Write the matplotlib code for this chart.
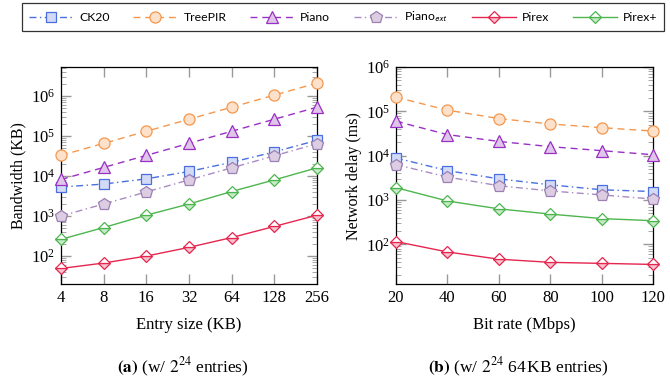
import matplotlib.pyplot as plt
from matplotlib.ticker import LogLocator, NullFormatter, FixedLocator, FixedFormatter
import numpy as np

plt.rcParams["font.family"] = "Liberation Serif"
plt.rcParams["mathtext.fontset"] = "stix"

# (a) bandwidth vs entry size (KB)
entry_size = [4, 8, 16, 32, 64, 128, 256]
bw_ck20 = [5300, 6300, 8500, 13000, 22000, 40000, 78000]
bw_treepir = [32768, 65536, 131072, 262144, 524288, 1048576, 2097152]
bw_piano = [8192, 16384, 32768, 65536, 131072, 262144, 524288]
bw_piano_ext = [1000, 2000, 4000, 8000, 16000, 32000, 64000]
bw_pirex = [49, 67, 100, 165, 290, 550, 1050]
bw_pirex_plus = [262, 516, 1050, 2000, 4100, 8000, 16000]

# (b) network delay vs bit rate (Mbps)
bit_rate = [20, 40, 60, 80, 100, 120]
nd_ck20 = [8900, 4600, 3000, 2200, 1700, 1550]
nd_treepir = [210000, 107000, 69000, 52000, 43000, 36000]
nd_piano = [60000, 30000, 21000, 16000, 13000, 10500]
nd_piano_ext = [6300, 3300, 2100, 1600, 1300, 1050]
nd_pirex = [115, 67, 46, 39, 37, 35]
nd_pirex_plus = [1900, 950, 630, 480, 380, 340]

labels = ["CK20", "TreePIR", "Piano", r"Piano$_{\mathsf{ext}}$", "Pirex", "Pirex+"]

styles = [
    dict(color="#4a6fe0", ls=(0, (5, 2.5, 1, 2.5)), marker="s", mfc="#d2daf6", mec="#4a6fe0"),
    dict(color="#f5984e", ls=(0, (5, 3.5)), marker="o", mfc="#fde1cb", mec="#f5984e"),
    dict(color="#9a2fc4", ls=(0, (5, 3.5)), marker="^", mfc="#dfc5ea", mec="#9a2fc4"),
    dict(color="#a98bc4", ls=(0, (5, 2.5, 1, 2.5)), marker="p", mfc="#dccde3", mec="#9c80b3"),
    dict(color="#e5264f", ls="-", marker="D", mfc="#f7c3cf", mec="#e5264f",
         fillstyle="bottom", mfcalt="white"),
    dict(color="#4db64f", ls="-", marker="D", mfc="#c7eac7", mec="#4db64f",
         fillstyle="bottom", mfcalt="white"),
]
msizes = [7.7, 8, 8.5, 8.8, 6.6, 6.6]

fig = plt.figure(figsize=(6.7, 3.86), dpi=100)
ax1 = fig.add_axes([0.091, 0.264, 0.382, 0.562])
ax2 = fig.add_axes([0.591, 0.264, 0.384, 0.562])

series_a = [bw_ck20, bw_treepir, bw_piano, bw_piano_ext, bw_pirex, bw_pirex_plus]
series_b = [nd_ck20, nd_treepir, nd_piano, nd_piano_ext, nd_pirex, nd_pirex_plus]


def draw(ax, xs, ys, st, ms, lab=None):
    st = dict(st)
    alt = st.pop("mfcalt", None)
    h, = ax.plot(xs, ys, color=st["color"], ls=st["ls"], lw=1.0,
                 marker=st["marker"], markersize=ms, markerfacecolor=st["mfc"],
                 markeredgecolor=st["mec"], markeredgewidth=0.9,
                 fillstyle=st.get("fillstyle", "full"),
                 markerfacecoloralt=alt if alt else "none", label=lab,
                 clip_on=False, zorder=3)
    return h


handles = [draw(ax1, entry_size, ys, st, ms, lab)
           for ys, st, ms, lab in zip(series_a, styles, msizes, labels)]
for ys, st, ms in zip(series_b, styles, msizes):
    draw(ax2, bit_rate, ys, st, ms)

for ax in (ax1, ax2):
    ax.set_yscale("log")
    ax.yaxis.set_major_locator(LogLocator(base=10, numticks=10))
    ax.yaxis.set_minor_locator(LogLocator(base=10, subs=np.arange(2, 10), numticks=10))
    ax.yaxis.set_minor_formatter(NullFormatter())
    ax.tick_params(which="both", direction="in", top=True, right=True, color="#999999",
                   labelsize=12, pad=4)
    ax.tick_params(which="major", length=7, width=1.0)
    ax.tick_params(which="minor", length=3.5, width=0.6)
    for sp in ax.spines.values():
        sp.set_linewidth(0.9)

ax1.set_xscale("log", base=2)
ax1.set_xlim(4, 256)
ax1.set_ylim(10 ** 1.3, 10 ** 6.72)
ax1.xaxis.set_major_locator(FixedLocator(entry_size))
ax1.xaxis.set_major_formatter(FixedFormatter([str(v) for v in entry_size]))
ax1.xaxis.set_minor_locator(FixedLocator([]))
ax1.set_xlabel("Entry size (KB)", fontsize=12, labelpad=8)
ax1.set_ylabel("Bandwidth (KB)", fontsize=11.5, labelpad=3)

ax2.set_xlim(20, 120)
ax2.set_ylim(10 ** 1.1, 10 ** 6)
ax2.set_xticks(bit_rate)
ax2.set_xlabel("Bit rate (Mbps)", fontsize=12, labelpad=8)
ax2.set_ylabel("Network delay (ms)", fontsize=11.5, labelpad=3)

fig.text(0.273, 0.035, r"$\mathbf{(a)}$ (w/ $2^{24}$ entries)", ha="center", fontsize=12.5)
fig.text(0.773, 0.035, r"$\mathbf{(b)}$ (w/ $2^{24}$ 64$\,$KB entries)", ha="center", fontsize=12.5)

leg = fig.legend(handles=handles, loc="upper left", bbox_to_anchor=(0.033, 0.992),
                 borderaxespad=0, ncol=6, frameon=True, fancybox=False, edgecolor="black",
                 prop={"family": "Lato", "size": 8.8}, handlelength=3.6,
                 columnspacing=1.95, borderpad=0.55, handletextpad=0.5, markerscale=1.0)
leg.get_frame().set_linewidth(0.9)

fig.savefig("out.png", dpi=100)
